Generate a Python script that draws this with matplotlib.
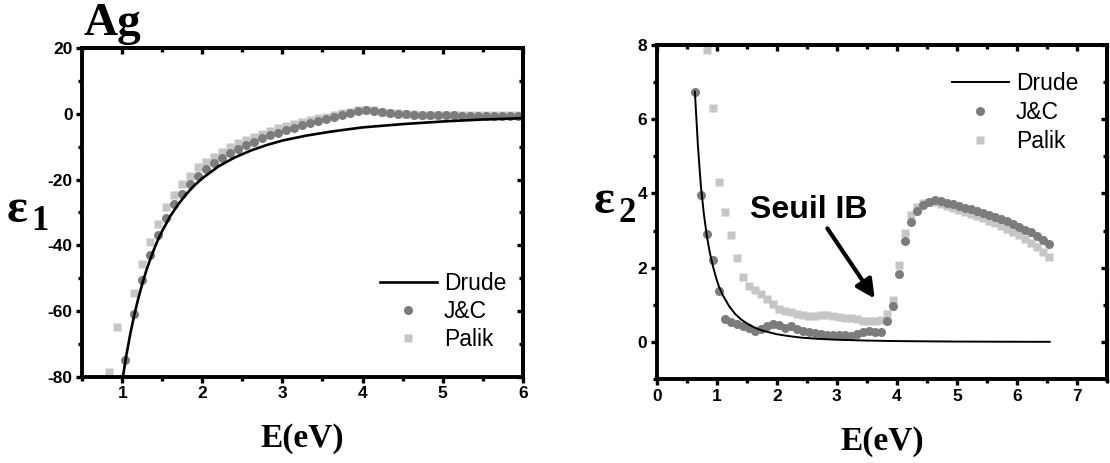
import matplotlib.pyplot as plt
from matplotlib.ticker import MultipleLocator

plt.rcParams["font.family"] = ["Liberation Sans", "DejaVu Sans"]
plt.rcParams["axes.unicode_minus"] = False

# left panel: real part eps1
drude1_e = [1.0, 1.05, 1.1, 1.15, 1.2, 1.25, 1.3, 1.35, 1.4, 1.45, 1.5, 1.6, 1.7, 1.8, 1.9,
            2.0, 2.2, 2.4, 2.6, 2.8, 3.0, 3.3, 3.6, 4.0, 4.5, 5.0, 5.5, 6.0]
drude1_v = [-81.3, -73.6, -67.0, -61.2, -56.2, -51.7, -47.7, -44.2, -41.0, -38.1, -35.6, -31.1,
            -27.5, -24.4, -21.8, -19.6, -16.0, -13.3, -11.2, -9.5, -8.1, -6.6, -5.4, -4.1,
            -3.1, -2.3, -1.7, -1.3]

jc1_e = [1.04, 1.14, 1.24, 1.34, 1.44, 1.54, 1.64, 1.74, 1.84, 1.94,
         2.04, 2.14, 2.24, 2.34, 2.44, 2.54, 2.64, 2.74, 2.84, 2.94,
         3.04, 3.14, 3.24, 3.34, 3.44, 3.54, 3.64, 3.74, 3.84, 3.94,
         4.04, 4.14, 4.24, 4.34, 4.44, 4.54, 4.64, 4.74, 4.84, 4.94,
         5.04, 5.14, 5.24, 5.34, 5.44, 5.54, 5.64, 5.74, 5.84, 5.94]
jc1_v = [-74.9, -60.9, -50.7, -43.1, -36.9, -31.6, -27.5, -24.4, -21.3, -18.8,
         -16.9, -14.9, -13.3, -11.9, -10.6, -9.4, -8.4, -7.4, -6.5, -5.7,
         -4.9, -4.2, -3.5, -2.9, -2.2, -1.5, -0.9, -0.3, 0.3, 0.9,
         1.2, 1.0, 0.6, 0.3, 0.1, -0.1, -0.2, -0.3, -0.3, -0.4,
         -0.4, -0.4, -0.5, -0.5, -0.5, -0.5, -0.5, -0.5, -0.5, -0.5]

palik1_e = [0.84, 0.94, 1.14, 1.24, 1.34, 1.44, 1.54, 1.64, 1.74, 1.84, 1.94,
            2.04, 2.14, 2.24, 2.34, 2.44, 2.54, 2.64, 2.74, 2.84, 2.94,
            3.04, 3.14, 3.24, 3.34, 3.44, 3.54, 3.64, 3.74, 3.84, 3.94,
            4.04, 4.14, 4.24, 4.34, 4.44, 4.54, 4.64, 4.74, 4.84, 4.94,
            5.04, 5.14, 5.24, 5.34, 5.44, 5.54, 5.64, 5.74, 5.84, 5.94]
palik1_v = [-78.5, -64.8, -54.6, -45.8, -38.9, -33.5, -28.4, -24.7, -21.4, -18.9, -16.3,
            -14.5, -13.0, -11.6, -10.2, -8.9, -7.9, -6.9, -6.0, -5.2, -4.4,
            -3.7, -3.1, -2.5, -1.9, -1.3, -0.8, -0.3, 0.2, 0.7, 1.1,
            1.3, 1.1, 0.7, 0.4, 0.2, 0.0, -0.1, -0.2, -0.2, -0.3,
            -0.3, -0.3, -0.4, -0.4, -0.4, -0.4, -0.4, -0.4, -0.4, -0.4]

# right panel: imaginary part eps2
drude2_e = [0.63, 0.68, 0.73, 0.78, 0.83, 0.88, 0.93, 0.98, 1.03, 1.1, 1.2, 1.3, 1.4, 1.5,
            1.6, 1.7, 1.8, 2.0, 2.2, 2.4, 2.7, 3.0, 3.5, 4.0, 5.0, 6.0, 6.55]
drude2_v = [6.74, 5.3, 4.2, 3.45, 2.85, 2.4, 2.05, 1.75, 1.5, 1.25, 0.97, 0.76, 0.61, 0.5,
            0.41, 0.34, 0.29, 0.21, 0.16, 0.12, 0.085, 0.062, 0.04, 0.026, 0.013, 0.008, 0.006]

jc2_e = [0.63, 0.73, 0.83, 0.93, 1.03, 1.13, 1.23, 1.33, 1.43, 1.53,
         1.63, 1.73, 1.83, 1.93, 2.03, 2.13, 2.23, 2.33, 2.43, 2.53,
         2.63, 2.73, 2.83, 2.93, 3.03, 3.13, 3.23, 3.33, 3.43, 3.53,
         3.63, 3.73, 3.83, 3.93, 4.03, 4.13, 4.23, 4.33, 4.43, 4.53,
         4.63, 4.73, 4.83, 4.93, 5.03, 5.13, 5.23, 5.33, 5.43, 5.53,
         5.63, 5.73, 5.83, 5.93, 6.03, 6.13, 6.23, 6.33, 6.43, 6.53]
jc2_v = [6.74, 3.97, 2.92, 2.22, 1.38, 0.61, 0.54, 0.49, 0.44, 0.37,
         0.29, 0.36, 0.44, 0.49, 0.45, 0.39, 0.42, 0.36, 0.31, 0.28,
         0.25, 0.21, 0.19, 0.2, 0.2, 0.19, 0.17, 0.22, 0.28, 0.31,
         0.28, 0.26, 0.58, 0.96, 1.83, 2.71, 3.23, 3.52, 3.69, 3.78,
         3.82, 3.79, 3.75, 3.71, 3.67, 3.62, 3.58, 3.53, 3.48, 3.43,
         3.37, 3.31, 3.25, 3.18, 3.11, 3.03, 2.95, 2.86, 2.76, 2.65]

palik2_e = [0.83, 0.93, 1.03, 1.13, 1.23, 1.33, 1.43, 1.53,
            1.63, 1.73, 1.83, 1.93, 2.03, 2.13, 2.23, 2.33, 2.43, 2.53,
            2.63, 2.73, 2.83, 2.93, 3.03, 3.13, 3.23, 3.33, 3.43, 3.53,
            3.63, 3.73, 3.83, 3.93, 4.03, 4.13, 4.23, 4.33, 4.43, 4.53,
            4.63, 4.73, 4.83, 4.93, 5.03, 5.13, 5.23, 5.33, 5.43, 5.53,
            5.63, 5.73, 5.83, 5.93, 6.03, 6.13, 6.23, 6.33, 6.43, 6.53]
palik2_v = [7.85, 6.31, 4.30, 3.50, 2.89, 2.27, 1.75, 1.50,
            1.41, 1.30, 1.16, 1.02, 0.89, 0.83, 0.80, 0.76, 0.72, 0.69,
            0.71, 0.74, 0.73, 0.70, 0.68, 0.66, 0.66, 0.62, 0.58, 0.56,
            0.56, 0.59, 0.76, 1.13, 2.08, 2.94, 3.42, 3.64, 3.74, 3.78,
            3.76, 3.72, 3.67, 3.62, 3.56, 3.51, 3.45, 3.39, 3.33, 3.27,
            3.20, 3.13, 3.05, 2.97, 2.88, 2.78, 2.67, 2.55, 2.42, 2.29]

JC_COLOR = "#7c7c7c"
PALIK_COLOR = "#c6c6c6"
LW = 2.8


def style_axes(ax, xmajor, ymajor):
    for s in ax.spines.values():
        s.set_linewidth(LW)
    ax.xaxis.set_major_locator(MultipleLocator(xmajor))
    ax.xaxis.set_minor_locator(MultipleLocator(xmajor / 2))
    ax.yaxis.set_major_locator(MultipleLocator(ymajor))
    ax.yaxis.set_minor_locator(MultipleLocator(ymajor / 2))
    ax.tick_params(which="major", direction="out", length=4.5, width=2.4,
                   labelsize=12.5, pad=2.5)
    ax.tick_params(which="minor", direction="out", length=3, width=2.4)
    for lab in ax.get_xticklabels() + ax.get_yticklabels():
        lab.set_fontweight("bold")
    # mirrored ticks pointing inside on top / right
    top = ax.secondary_xaxis("top")
    right = ax.secondary_yaxis("right")
    top.xaxis.set_major_locator(MultipleLocator(xmajor))
    top.xaxis.set_minor_locator(MultipleLocator(xmajor / 2))
    right.yaxis.set_major_locator(MultipleLocator(ymajor))
    right.yaxis.set_minor_locator(MultipleLocator(ymajor / 2))
    for sec in (top, right):
        sec.tick_params(which="major", direction="in", length=4.5, width=2.4,
                        labelleft=False, labelright=False, labeltop=False, labelbottom=False)
        sec.tick_params(which="minor", direction="in", length=3, width=2.4)
        for s in sec.spines.values():
            s.set_linewidth(LW)


fig = plt.figure(figsize=(11.1, 4.63), dpi=100)
ax1 = fig.add_axes([0.0741, 0.1868, 0.3968, 0.7089])
ax2 = fig.add_axes([0.592, 0.181, 0.405, 0.722])

# left
ax1.plot(drude1_e, drude1_v, color="black", lw=1.9, label="Drude", zorder=3)
ax1.plot(jc1_e, jc1_v, "o", color=JC_COLOR, ms=6.5, mec="none", label="J&C", zorder=2)
ax1.plot(palik1_e, palik1_v, "s", color=PALIK_COLOR, ms=5.6, mec="none", label="Palik", zorder=1)
ax1.set_xlim(0.5, 6)
ax1.set_ylim(-80, 20)
style_axes(ax1, 1, 20)
ax1.legend(loc="upper left", bbox_to_anchor=(0.675, 0.318), frameon=False, fontsize=16.5,
           borderpad=0, borderaxespad=0, handlelength=2.5, handletextpad=0.3,
           labelspacing=0.22, numpoints=1)
ax1.set_xlabel("E(eV)", family="Liberation Serif", fontweight="bold", fontsize=24, labelpad=16)

# right
ax2.plot(drude2_e, drude2_v, color="black", lw=1.4, label="Drude", zorder=3)
ax2.plot(jc2_e, jc2_v, "o", color=JC_COLOR, ms=6.5, mec="none", label="J&C", zorder=2)
ax2.plot(palik2_e, palik2_v, "s", color=PALIK_COLOR, ms=5.6, mec="none", label="Palik", zorder=1)
ax2.set_xlim(0, 7.5)
ax2.set_ylim(-1, 8)
style_axes(ax2, 1, 2)
ax2.legend(loc="upper left", bbox_to_anchor=(0.655, 0.92), frameon=False, fontsize=16.5,
           borderpad=0, borderaxespad=0, handlelength=2.5, handletextpad=0.3,
           labelspacing=0.28, numpoints=1)
ax2.set_xlabel("E(eV)", family="Liberation Serif", fontweight="bold", fontsize=24, labelpad=16)

ax2.text(1.55, 3.33, "Seuil IB", fontsize=23, fontweight="bold", va="baseline")
ax2.annotate("", xy=(3.63, 1.17), xytext=(2.84, 3.06),
             arrowprops=dict(arrowstyle="-|>", lw=3, color="black", mutation_scale=28,
                             shrinkA=0, shrinkB=0))

# axis symbols and title
fig.text(7 / 1110, 1 - 222 / 463, "\u03b5", family="Liberation Serif", fontweight="bold",
         fontsize=35, va="baseline")
fig.text(31 / 1110, 1 - 230 / 463, "1", family="Liberation Serif", fontweight="bold",
         fontsize=25, va="baseline")
fig.text(594 / 1110, 1 - 213 / 463, "\u03b5", family="Liberation Serif", fontweight="bold",
         fontsize=35, va="baseline")
fig.text(618 / 1110, 1 - 222 / 463, "2", family="Liberation Serif", fontweight="bold",
         fontsize=25, va="baseline")
fig.text(84 / 1110, 1 - 35 / 463, "Ag", family="Liberation Serif", fontweight="bold",
         fontsize=34, va="baseline")

fig.savefig("out.png", dpi=100)
